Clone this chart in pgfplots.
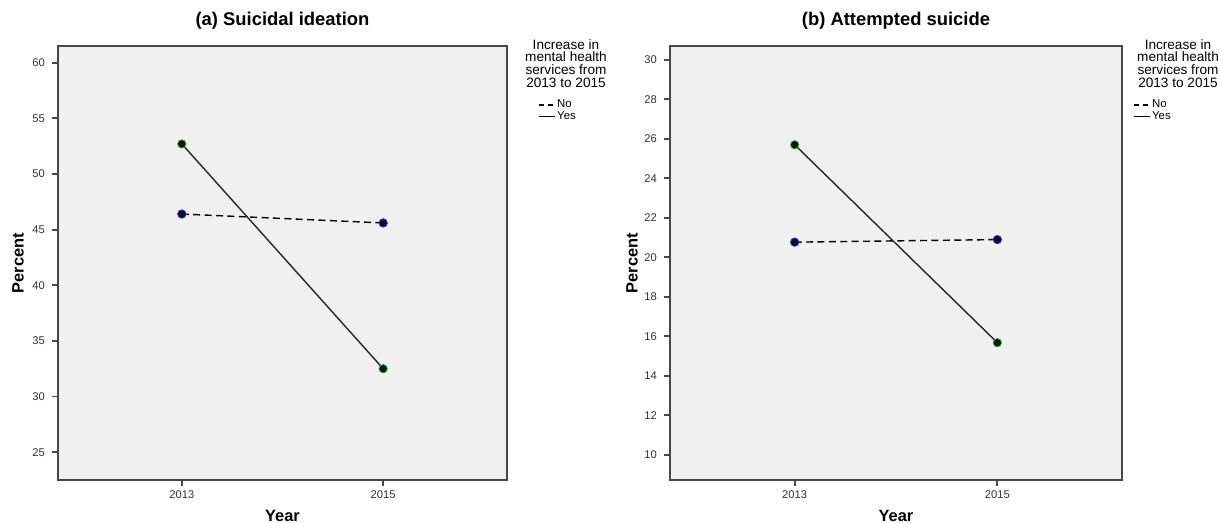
\documentclass[border=0pt]{standalone}
\usepackage{fontspec}
\setmainfont{Liberation Sans}
\usepackage{pgfplots}
\pgfplotsset{compat=1.18}

\definecolor{bg}{HTML}{F0F0F0}
\definecolor{frame}{HTML}{474747}
\definecolor{nofill}{HTML}{0A0A3C}
\definecolor{noedge}{HTML}{2A3A9A}
\definecolor{yesfill}{HTML}{0A140A}
\definecolor{yesedge}{HTML}{2FB02F}

\pgfplotsset{
  spss/.style={
    scale only axis,
    height=217pt,
    axis background/.style={fill=bg},
    axis line style={frame, line width=0.8pt},
    xmin=2011.77, xmax=2016.23,
    xtick={2013,2015},
    tick align=outside,
    major tick length=3pt,
    tick style={frame, line width=0.9pt},
    xtick pos=bottom, ytick pos=left,
    /pgf/number format/assume math mode=true,
    /pgf/number format/1000 sep={},
    tick label style={font=\fontsize{5.6}{6.5}\selectfont, text=black!80},
    xticklabel style={yshift=1pt},
    xlabel={Year}, ylabel={Percent},
    label style={font=\fontsize{8.2}{9.5}\selectfont\bfseries},
    xlabel style={at={(axis description cs:0.5,-0.083)}, anchor=center},
    title style={font=\fontsize{9.2}{11}\selectfont\bfseries, at={(axis description cs:0.5,1.03)}, anchor=center},
    legend style={draw=none, fill=none, font=\fontsize{5.7}{6.5}\selectfont, anchor=north west,
      inner sep=0pt, row sep=-0.8pt, nodes={inner sep=0.6pt}},
    legend cell align=left,
    legend image code/.code={\draw[#1] (0pt,0pt) -- (8pt,0pt);},
    clip=false,
  },
  noline/.style={black, line width=0.7pt, dash pattern=on 3.5pt off 2.2pt,
    mark=*, mark size=2.1pt, mark options={solid, fill=nofill, draw=noedge, line width=0.4pt}},
  yesline/.style={black!85, line width=0.7pt,
    mark=*, mark size=2.1pt, mark options={solid, fill=yesfill, draw=yesedge, line width=0.4pt}},
}

\begin{document}
\begin{tikzpicture}
\useasboundingbox (0,0) rectangle (610pt,261.5pt);
\fill[white] (0,0) rectangle (610pt,261.5pt);

% ---------- (a) Suicidal ideation ----------
\begin{axis}[spss,
  at={(29pt,21.5pt)}, anchor=south west,
  width=224.5pt,
  ymin=22.5, ymax=61.5,
  ytick={25,30,35,40,45,50,55,60},
  ylabel style={at={(axis description cs:-0.089,0.5)}, anchor=center},
  title={(a) Suicidal ideation},
  legend style={at={(axis description cs:1.07,0.88)}},
]
\addplot[noline, forget plot] coordinates {(2013,46.4) (2015,45.6)};
\addplot[yesline, forget plot] coordinates {(2013,52.7) (2015,32.5)};
\addlegendimage{black, line width=0.6pt, dash pattern=on 2.5pt off 2pt}
\addlegendentry{No}
\addlegendimage{black, line width=0.6pt}
\addlegendentry{Yes}
\end{axis}

\node[align=center, font=\fontsize{6.8}{6.3}\selectfont, anchor=north, inner sep=0pt]
  at (283pt,242pt) {Increase in\\mental health\\services from\\2013 to 2015};

% ---------- (b) Attempted suicide ----------
\begin{axis}[spss,
  at={(335pt,21.5pt)}, anchor=south west,
  width=226pt,
  ymin=8.73, ymax=30.7,
  ytick={10,12,14,16,18,20,22,24,26,28,30},
  ylabel style={at={(axis description cs:-0.084,0.5)}, anchor=center},
  title={(b) Attempted suicide},
  legend style={at={(axis description cs:1.025,0.88)}},
]
\addplot[noline, forget plot] coordinates {(2013,20.77) (2015,20.9)};
\addplot[yesline, forget plot] coordinates {(2013,25.7) (2015,15.68)};
\addlegendimage{black, line width=0.6pt, dash pattern=on 2.5pt off 2pt}
\addlegendentry{No}
\addlegendimage{black, line width=0.6pt}
\addlegendentry{Yes}
\end{axis}

\node[align=center, font=\fontsize{6.8}{6.3}\selectfont, anchor=north, inner sep=0pt]
  at (589pt,242pt) {Increase in\\mental health\\services from\\2013 to 2015};
\end{tikzpicture}
\end{document}
